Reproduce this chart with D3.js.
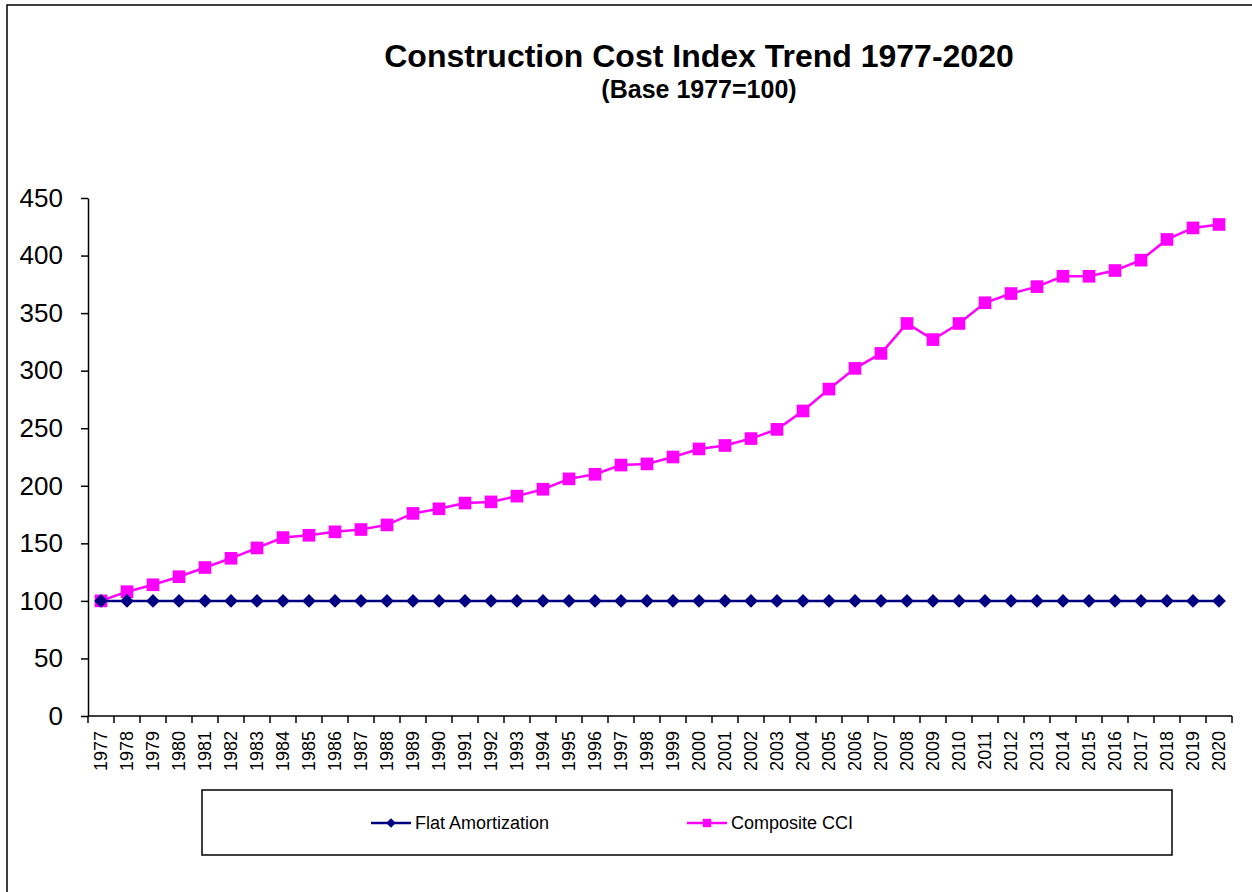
<!DOCTYPE html>
<html>
<head>
<meta charset="utf-8">
<script src="https://cdn.jsdelivr.net/npm/d3@7"></script>
<style>
  body { margin: 0; background: #fff; }
  svg text { font-family: "Liberation Sans", Arial, sans-serif; }
</style>
</head>
<body>
<div id="chart"></div>
<script>
// Data
var years = d3.range(1977, 2021).map(String);
var flatAmortization = years.map(function() { return 100; });
var compositeCCI = [100, 108, 114, 121, 129, 137, 146, 155, 157, 160,
                    162, 166, 176, 180, 185, 186, 191, 197, 206, 210,
                    218, 219, 225, 232, 235, 241, 249, 265, 284, 302,
                    315, 341, 327, 341, 359, 367, 373, 382, 382, 387,
                    396, 414, 424, 427];
var yTicks = [0, 50, 100, 150, 200, 250, 300, 350, 400, 450];
var seriesNames = ["Flat Amortization", "Composite CCI"];

// layout
var w = 1252, h = 892;
var plotLeft = 88, plotRight = 1232, plotTop = 198, plotBottom = 716;
var navy = '#000080', magenta = '#ff00ff';

var svg = d3.select("#chart").append("svg")
    .attr("width", w)
    .attr("height", h);

// outer frame
svg.append("rect")
    .attr("x", 7).attr("y", 5)
    .attr("width", w + 10).attr("height", h + 10)
    .attr("fill", "none")
    .attr("stroke", "#000")
    .attr("stroke-width", 1.5);

// titles
svg.append("text")
    .attr("x", 699).attr("y", 67)
    .attr("text-anchor", "middle")
    .attr("font-weight", "bold")
    .attr("font-size", 32)
    .text("Construction Cost Index Trend 1977-2020");

svg.append("text")
    .attr("x", 699).attr("y", 98)
    .attr("text-anchor", "middle")
    .attr("font-weight", "bold")
    .attr("font-size", 25)
    .text("(Base 1977=100)");

// scales
var x = d3.scaleBand().domain(years).range([plotLeft, plotRight]).padding(0);
var y = d3.scaleLinear().domain([0, 450]).range([plotBottom, plotTop]);
var cx = function(d) { return x(d) + x.bandwidth() / 2; };

// y axis
var yAxis = svg.append("g")
    .attr("transform", "translate(" + plotLeft + ",0)")
    .call(d3.axisLeft(y).tickValues(yTicks).tickSize(7).tickPadding(18).tickSizeOuter(0));
yAxis.select(".domain").attr("stroke", "#000").attr("stroke-width", 1.5);
yAxis.selectAll(".tick line").attr("stroke", "#000").attr("stroke-width", 1.5);
yAxis.selectAll(".tick text")
    .attr("font-size", 26)
    .attr("font-family", "Liberation Sans, Arial, sans-serif")
    .attr("fill", "#000");

// x axis line and ticks on band boundaries
svg.append("line")
    .attr("x1", plotLeft).attr("x2", plotRight)
    .attr("y1", plotBottom).attr("y2", plotBottom)
    .attr("stroke", "#000").attr("stroke-width", 1.5);

var bounds = years.map(function(d) { return x(d); }).concat([plotRight]);
svg.append("g").selectAll("line")
    .data(bounds)
    .enter()
    .append("line")
    .attr("x1", function(d) { return d; })
    .attr("x2", function(d) { return d; })
    .attr("y1", plotBottom)
    .attr("y2", plotBottom + 7)
    .attr("stroke", "#000")
    .attr("stroke-width", 1.5);

svg.append("g").selectAll("text")
    .data(years)
    .enter()
    .append("text")
    .attr("transform", function(d) { return "translate(" + cx(d) + "," + (plotBottom + 15) + ") rotate(-90)"; })
    .attr("text-anchor", "end")
    .attr("dy", "0.35em")
    .attr("font-size", 18)
    .text(function(d) { return d; });

// lines
var line = d3.line()
    .x(function(d, i) { return cx(years[i]); })
    .y(function(d) { return y(d); });

svg.append("path")
    .datum(compositeCCI)
    .attr("d", line)
    .attr("fill", "none")
    .attr("stroke", magenta)
    .attr("stroke-width", 2.5);

svg.append("path")
    .datum(flatAmortization)
    .attr("d", line)
    .attr("fill", "none")
    .attr("stroke", navy)
    .attr("stroke-width", 2.5);

// markers
var diamond = d3.symbol().type(d3.symbolDiamond2).size(120);
var square = d3.symbol().type(d3.symbolSquare).size(160);

svg.append("g").selectAll("path")
    .data(compositeCCI)
    .enter()
    .append("path")
    .attr("d", square)
    .attr("transform", function(d, i) { return "translate(" + cx(years[i]) + "," + y(d) + ")"; })
    .attr("fill", magenta);

svg.append("g").selectAll("path")
    .data(flatAmortization)
    .enter()
    .append("path")
    .attr("d", diamond)
    .attr("transform", function(d, i) { return "translate(" + cx(years[i]) + "," + y(d) + ")"; })
    .attr("fill", navy);

// legend
svg.append("rect")
    .attr("x", 202).attr("y", 790)
    .attr("width", 970).attr("height", 65)
    .attr("fill", "none")
    .attr("stroke", "#000")
    .attr("stroke-width", 1.5);

var legendItems = [
    { name: seriesNames[0], color: navy, sym: d3.symbol().type(d3.symbolDiamond2).size(60), x: 371 },
    { name: seriesNames[1], color: magenta, sym: d3.symbol().type(d3.symbolSquare).size(70), x: 687 }
];
var lg = svg.append("g").selectAll("g")
    .data(legendItems)
    .enter()
    .append("g")
    .attr("transform", function(d) { return "translate(" + d.x + ",823)"; });
lg.append("line")
    .attr("x1", 0).attr("x2", 40)
    .attr("stroke", function(d) { return d.color; })
    .attr("stroke-width", 2.5);
lg.append("path")
    .attr("d", function(d) { return d.sym(); })
    .attr("transform", "translate(20,0)")
    .attr("fill", function(d) { return d.color; });
lg.append("text")
    .attr("x", 44)
    .attr("dy", "0.35em")
    .attr("font-size", 18)
    .text(function(d) { return d.name; });
</script>
</body>
</html>
